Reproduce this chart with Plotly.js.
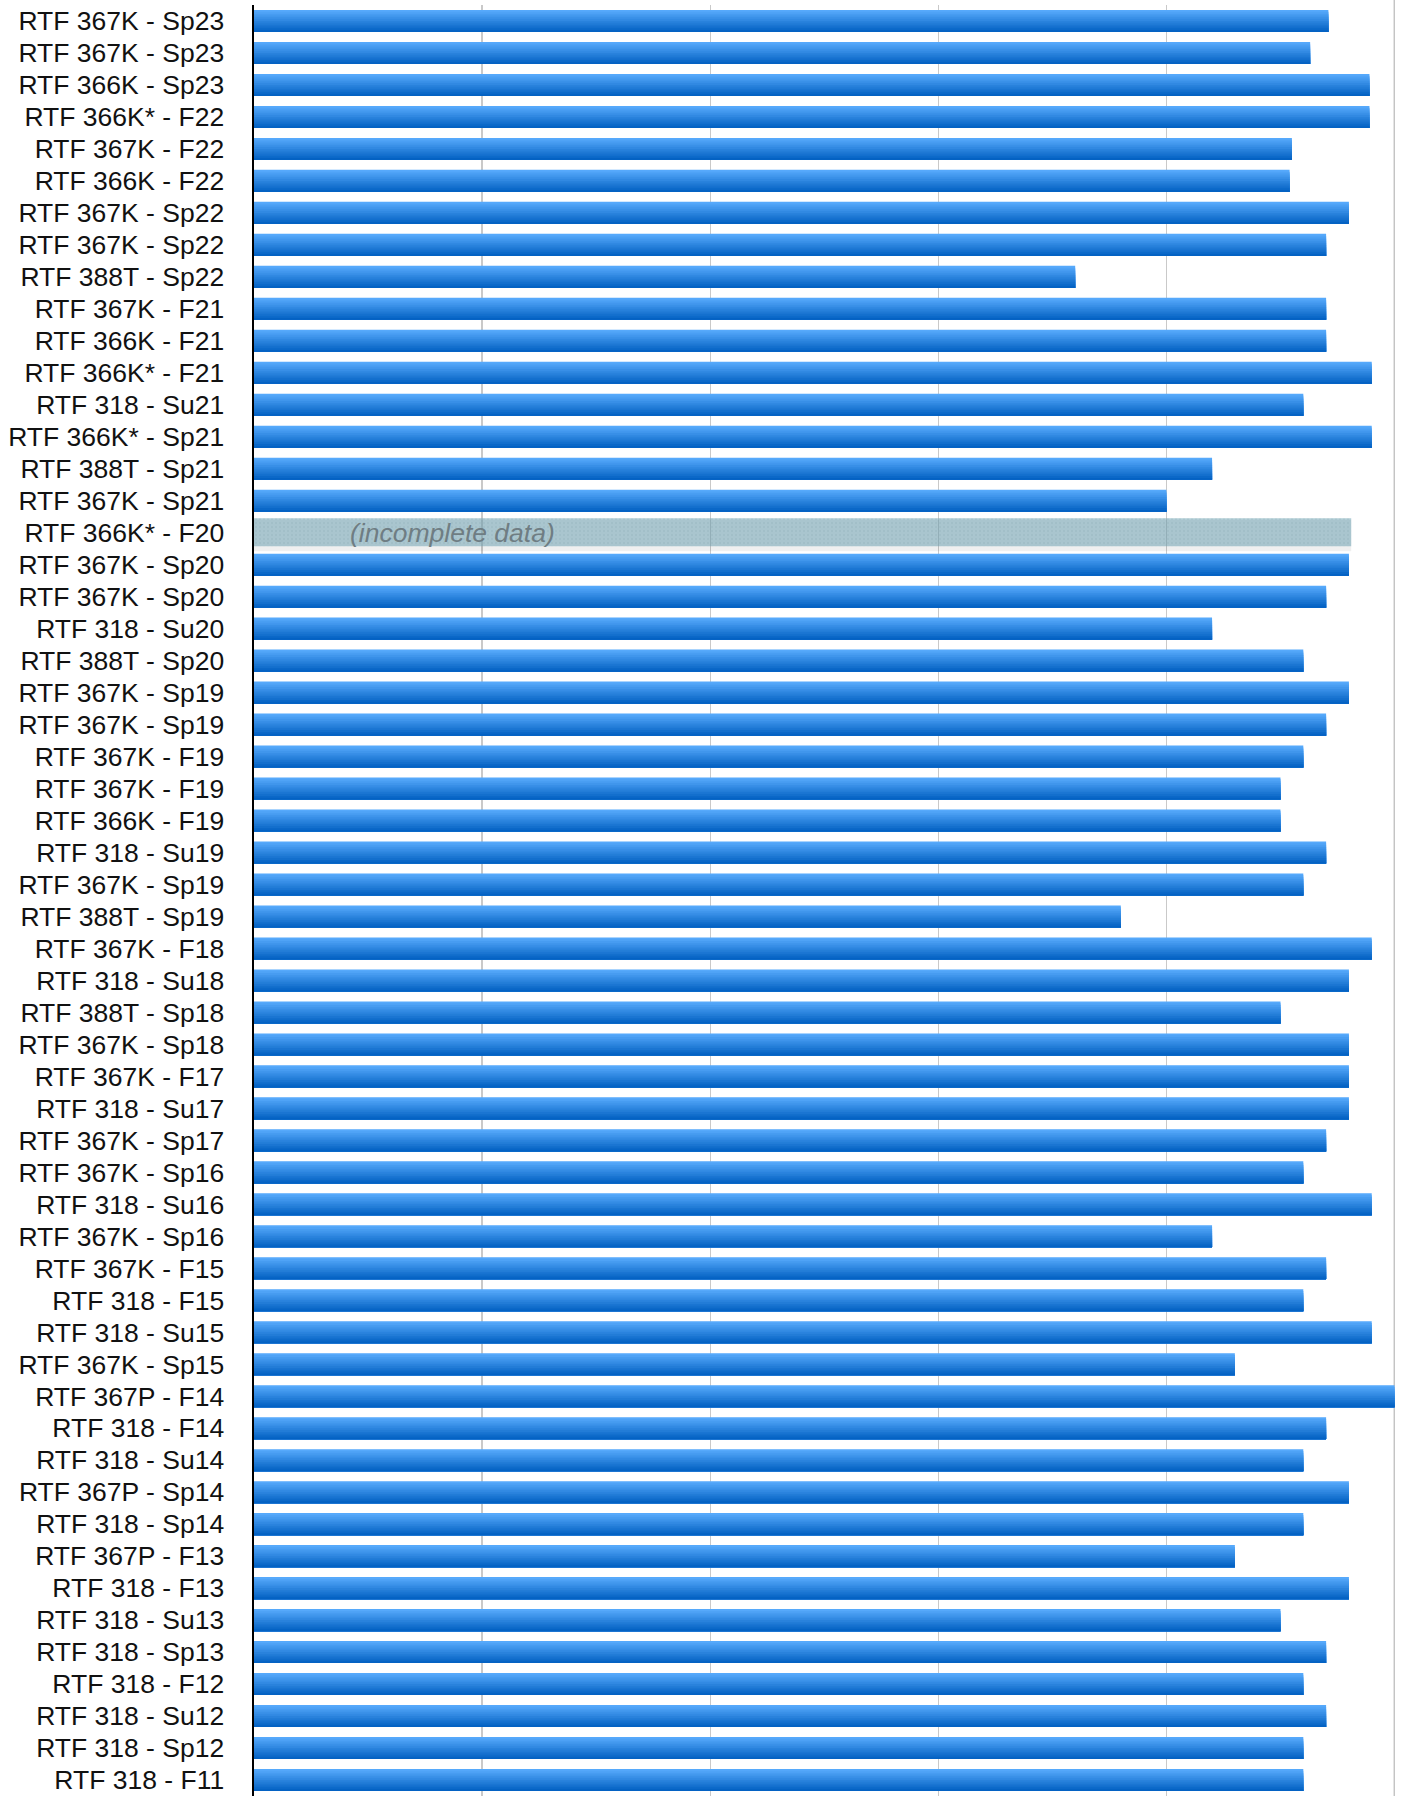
<!DOCTYPE html>
<html>
<head>
<meta charset="utf-8">
<script src="https://cdn.plot.ly/plotly-3.0.1.min.js"></script>
<style>
  html, body { margin: 0; padding: 0; background: #ffffff; }
  #chart { width: 1421px; height: 1796px; }
</style>
</head>
<body>
<div id="chart"></div>
<script>
// ---- Data ----
const labels = [
  "RTF 367K - Sp23", "RTF 367K - Sp23", "RTF 366K - Sp23", "RTF 366K* - F22",
  "RTF 367K - F22", "RTF 366K - F22", "RTF 367K - Sp22", "RTF 367K - Sp22",
  "RTF 388T - Sp22", "RTF 367K - F21", "RTF 366K - F21", "RTF 366K* - F21",
  "RTF 318 - Su21", "RTF 366K* - Sp21", "RTF 388T - Sp21", "RTF 367K - Sp21",
  "RTF 366K* - F20", "RTF 367K - Sp20", "RTF 367K - Sp20", "RTF 318 - Su20",
  "RTF 388T - Sp20", "RTF 367K - Sp19", "RTF 367K - Sp19", "RTF 367K - F19",
  "RTF 367K - F19", "RTF 366K - F19", "RTF 318 - Su19", "RTF 367K - Sp19",
  "RTF 388T - Sp19", "RTF 367K - F18", "RTF 318 - Su18", "RTF 388T - Sp18",
  "RTF 367K - Sp18", "RTF 367K - F17", "RTF 318 - Su17", "RTF 367K - Sp17",
  "RTF 367K - Sp16", "RTF 318 - Su16", "RTF 367K - Sp16", "RTF 367K - F15",
  "RTF 318 - F15", "RTF 318 - Su15", "RTF 367K - Sp15", "RTF 367P - F14",
  "RTF 318 - F14", "RTF 318 - Su14", "RTF 367P - Sp14", "RTF 318 - Sp14",
  "RTF 367P - F13", "RTF 318 - F13", "RTF 318 - Su13", "RTF 318 - Sp13",
  "RTF 318 - F12", "RTF 318 - Su12", "RTF 318 - Sp12", "RTF 318 - F11"
];

const ratings = [
  4.71, 4.63, 4.89, 4.89, 4.55, 4.54, 4.8, 4.7, 3.6, 4.7,
  4.7, 4.9, 4.6, 4.9, 4.2, 4.0, 4.81, 4.8, 4.7, 4.2,
  4.6, 4.8, 4.7, 4.6, 4.5, 4.5, 4.7, 4.6, 3.8, 4.9,
  4.8, 4.5, 4.8, 4.8, 4.8, 4.7, 4.6, 4.9, 4.2, 4.7,
  4.6, 4.9, 4.3, 5.0, 4.7, 4.6, 4.8, 4.6, 4.3, 4.8,
  4.5, 4.7, 4.6, 4.7, 4.6, 4.6
];

const incompleteIndex = [16];
const incompleteNote = "(incomplete data)";
const xTicks = [0, 1, 2, 3, 4, 5];

// ---- Derived ----
const rows = labels.map((_, i) => i);
const complete = ratings.map((v, i) => incompleteIndex.includes(i) ? null : v);
const partial = ratings.map((v, i) => incompleteIndex.includes(i) ? v : null);

const traces = [];

// gradient bars: stacked overlay stripes (light top -> dark bottom)
const N = 12;
const barFrac = 0.69;
const topOff = -barFrac / 2;
const cTop = [86, 169, 251];
const cBot = [4, 98, 195];
for (let k = 0; k < N; k++) {
  const t = k / (N - 1);
  const c = cTop.map((a, j) => Math.round(a + (cBot[j] - a) * t));
  traces.push({
    type: 'bar', orientation: 'h',
    x: complete, y: rows,
    offset: topOff + k * barFrac / N,
    width: barFrac - k * barFrac / N,
    marker: { color: `rgb(${c[0]},${c[1]},${c[2]})`, line: { width: 0 } },
    hoverinfo: 'skip', showlegend: false
  });
}

// incomplete-data bar: soft shadow + translucent textured bar
traces.push({
  type: 'bar', orientation: 'h',
  x: partial, y: rows,
  offset: -0.40, width: 0.98,
  marker: { color: 'rgba(0,0,0,0.06)', line: { width: 0 } },
  hoverinfo: 'skip', showlegend: false
});
traces.push({
  type: 'bar', orientation: 'h',
  x: partial, y: rows,
  offset: -0.45, width: 0.875,
  marker: {
    color: 'rgba(110,162,178,0.55)', line: { width: 0 },
    pattern: { shape: '.', fillmode: 'overlay', fgcolor: 'rgb(95,130,140)', fgopacity: 0.12, size: 4, solidity: 0.22 }
  },
  hoverinfo: 'skip', showlegend: false
});

const layout = {
  width: 1421, height: 1796,
  margin: { l: 254, r: 26, t: 5, b: 0, pad: 0 },
  paper_bgcolor: '#ffffff', plot_bgcolor: '#ffffff',
  barmode: 'overlay',
  showlegend: false,
  xaxis: {
    range: [0, 5.002], tickvals: xTicks, showticklabels: false,
    showgrid: true, gridcolor: '#c9c9c9', gridwidth: 1.4,
    zeroline: false, showline: false, ticks: '', fixedrange: true
  },
  yaxis: {
    range: [labels.length - 0.5, -0.5],
    tickvals: rows, ticktext: labels,
    tickfont: { family: 'Liberation Sans, Arial, sans-serif', size: 26.5, color: '#111111' },
    ticks: '', ticklabelstandoff: 22,
    showgrid: false, zeroline: false,
    showline: true, linecolor: '#000000', linewidth: 2.5,
    automargin: false, fixedrange: true
  },
  shapes: [{
    type: 'line', xref: 'x', yref: 'paper',
    x0: xTicks[xTicks.length - 1], x1: xTicks[xTicks.length - 1], y0: 0, y1: 1.01,
    line: { color: '#c4c4c4', width: 2 }, layer: 'below'
  }],
  annotations: incompleteIndex.map(i => ({
    x: 0.41, y: i, xref: 'x', yref: 'y',
    xanchor: 'left', yanchor: 'middle',
    text: incompleteNote, showarrow: false,
    font: { family: 'Liberation Sans, Arial, sans-serif', size: 26.5, color: '#6f7d83', style: 'italic' }
  }))
};

Plotly.newPlot('chart', traces, layout, { staticPlot: true, displayModeBar: false });
</script>
</body>
</html>
